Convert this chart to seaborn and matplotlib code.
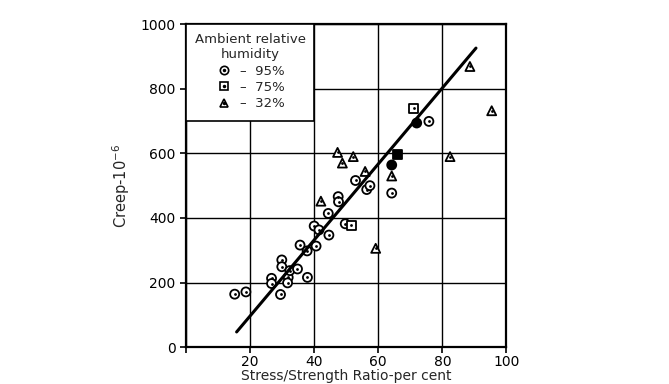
import pandas as pd
import seaborn as sns
import matplotlib.pyplot as plt
from matplotlib.lines import Line2D
from matplotlib.patches import Rectangle

# 1. Data (stress/strength ratio %, creep x 10^-6)
ratio_95 = [15.2, 18.7, 26.7, 26.7, 29.5, 29.9, 29.9, 31.9, 31.7, 32.4, 34.8, 35.6,
            37.8, 37.9, 40.0, 40.6, 41.5, 44.4, 44.6, 47.5, 47.6, 49.7, 52.9, 56.4,
            57.4, 64.2, 64.2, 72.0, 75.8]
creep_95 = [164, 171, 213, 197, 163, 270, 249, 216, 199, 237, 242, 316,
            298, 216, 375, 313, 363, 414, 347, 466, 450, 382, 516, 488,
            500, 564, 477, 694, 699]
solid_95 = [False] * 25 + [True, False, True, False]

ratio_75 = [51.5, 71.1, 66.1]
creep_75 = [378, 740, 598]
solid_75 = [False, False, True]

ratio_32 = [42.1, 47.3, 48.8, 52.2, 55.9, 59.2, 64.2, 82.4, 88.6, 95.4]
creep_32 = [452, 603, 570, 590, 544, 306, 530, 590, 869, 732]
solid_32 = [False] * 10

fit_ratio = [15.8, 90.5]
fit_creep = [47, 926]

df = pd.concat([
    pd.DataFrame({"ratio": ratio_95, "creep": creep_95, "solid": solid_95, "rh": "95%"}),
    pd.DataFrame({"ratio": ratio_75, "creep": creep_75, "solid": solid_75, "rh": "75%"}),
    pd.DataFrame({"ratio": ratio_32, "creep": creep_32, "solid": solid_32, "rh": "32%"}),
], ignore_index=True)

# 2. Style
sns.set_style("ticks")
plt.rcParams["font.family"] = ["DejaVu Sans"]

fig = plt.figure(figsize=(6.69, 3.84), dpi=100)
ax = fig.add_axes([0.278, 0.096, 0.479, 0.841])

markers = {"95%": "o", "75%": "s", "32%": "^"}

# 3. Points: open markers with a dot in the centre, a few solid ones
open_pts = df[~df["solid"]]
solid_pts = df[df["solid"]]
sns.scatterplot(data=open_pts, x="ratio", y="creep", style="rh", markers=markers,
                color="white", edgecolor="black", linewidth=1.3, s=42,
                legend=False, ax=ax, zorder=4)
sns.scatterplot(data=solid_pts, x="ratio", y="creep", style="rh", markers=markers,
                color="black", edgecolor="black", linewidth=1.3, s=42,
                legend=False, ax=ax, zorder=4)
sns.scatterplot(data=open_pts, x="ratio", y="creep", color="black", marker="o",
                s=4, linewidth=0, legend=False, ax=ax, zorder=5)

# 4. Fitted line
sns.lineplot(x=fit_ratio, y=fit_creep, color="black", linewidth=2.2, ax=ax, zorder=6)

# 5. Axes, grid
ax.set_xlim(0, 100)
ax.set_ylim(0, 1000)
ax.set_xticks([0, 20, 40, 60, 80, 100])
ax.set_xticklabels(["", "20", "40", "60", "80", "100"])
ax.set_yticks([0, 200, 400, 600, 800, 1000])
ax.set_axisbelow(True)
ax.grid(True, color="black", linewidth=1.0)
for sp in ax.spines.values():
    sp.set_visible(True)
    sp.set_color("black")
    sp.set_linewidth(1.6)
ax.tick_params(colors="black", labelsize=10, length=4, width=1.2)
ax.tick_params(axis="x", pad=1.5)
ax.set_xlabel("Stress/Strength Ratio-per cent", fontsize=10, labelpad=0)
ax.set_ylabel("Creep-10$^{-6}$", fontsize=10.5, labelpad=6)

# 6. Legend box in the upper-left cell
ax.add_patch(Rectangle((0, 700), 40, 300, facecolor="white", edgecolor="black",
                       linewidth=1.2, zorder=3))
handles = []
for m in ["o", "s", "^"]:
    outer = Line2D([], [], marker=m, linestyle="none", markerfacecolor="white",
                   markeredgecolor="black", markeredgewidth=1.2, markersize=6)
    dot = Line2D([], [], marker="o", linestyle="none", color="black", markersize=1.5)
    handles.append((outer, dot))
leg = ax.legend(handles, ["–  95%", "–  75%", "–  32%"],
                title="Ambient relative\nhumidity", loc="upper center",
                bbox_to_anchor=(0.2, 1.0), frameon=False, fontsize=9.5,
                title_fontsize=9.5, handletextpad=0.6, labelspacing=0.25,
                borderaxespad=0.3, handlelength=1.2, alignment="center")
leg.get_title().set_multialignment("center")
leg.set_zorder(7)

plt.savefig("out.png", dpi=100)
plt.close()
